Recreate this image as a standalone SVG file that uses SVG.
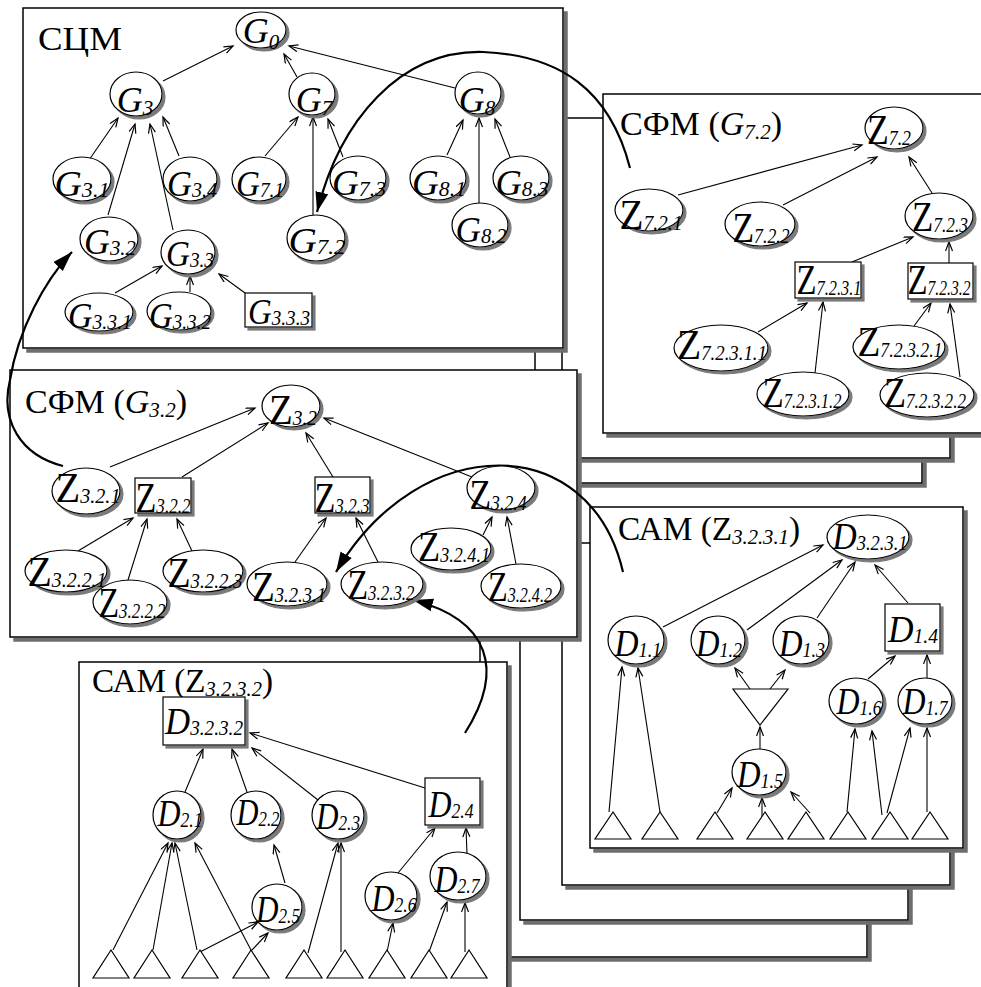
<svg xmlns="http://www.w3.org/2000/svg" width="981" height="987" viewBox="0 0 981 987">
<defs>
<filter id="fsh" x="-5%" y="-5%" width="115%" height="115%"><feDropShadow dx="4" dy="4" stdDeviation="0.5" flood-color="#6e6e6e" flood-opacity="1"/></filter>
<filter id="nsh" x="-20%" y="-20%" width="150%" height="150%"><feDropShadow dx="3" dy="3" stdDeviation="0.7" flood-color="#7a7a7a" flood-opacity="1"/></filter>
<marker id="a" markerWidth="12" markerHeight="10" refX="10" refY="4" orient="auto" markerUnits="userSpaceOnUse"><path d="M1,0.5 L10,4 L1,7.5" fill="none" stroke="#000" stroke-width="1.2"/></marker>
<marker id="A" markerWidth="22" markerHeight="16" refX="20" refY="8" orient="auto" markerUnits="userSpaceOnUse"><path d="M0,1.5 L20,8 L0,14.5 z" fill="#000"/></marker>
<style>
.fr{fill:#fff;stroke:#000;stroke-width:1.5;filter:url(#fsh)}
.n{fill:#fff;stroke:#000;stroke-width:1.2;filter:url(#nsh)}
.tri{fill:#fff;stroke:#000;stroke-width:1.2}
.e{stroke:#000;stroke-width:1.1;fill:none;marker-end:url(#a)}
.c{stroke:#000;stroke-width:2.2;fill:none;marker-end:url(#A)}
text{font-family:"Liberation Serif","Times New Roman",serif;fill:#000}
.t{font-size:34px}
.g{font-size:36px;font-style:italic;text-anchor:middle}
.z{font-size:42px;text-anchor:middle}
.d{font-size:38px;font-style:italic;text-anchor:middle}
.s{font-size:21px;font-style:italic}
.s2{font-size:20px;font-style:italic}
</style>
</defs>

<g id="frames">
<rect class="fr" x="480" y="560" width="387" height="397"/>
<rect class="fr" x="520" y="555" width="388" height="365"/>
<rect class="fr" x="562" y="543" width="388" height="342"/>
<rect class="fr" x="535" y="125" width="387" height="358"/>
<rect class="fr" x="562" y="118" width="388" height="340"/>
<rect id="frame-sfm72" class="fr" x="603" y="94" width="390" height="339"/>
<rect id="frame-sam3231" class="fr" x="590" y="507" width="373" height="341"/>
<rect id="frame-scm" class="fr" x="23" y="8" width="540" height="340"/>
<rect id="frame-sfm32" class="fr" x="10" y="370" width="567" height="267"/>
<rect id="frame-sam3232" class="fr" x="79" y="662" width="428" height="340"/>
</g>

<g id="titles">
<text class="t" x="38" y="50" textLength="84" lengthAdjust="spacingAndGlyphs">СЦМ</text>
<text class="t" x="620" y="135" textLength="162" lengthAdjust="spacingAndGlyphs">СФМ (<tspan font-style="italic">G</tspan><tspan class="s" dy="4">7.2</tspan><tspan dy="-4">)</tspan></text>
<text class="t" x="25" y="413" textLength="162" lengthAdjust="spacingAndGlyphs">СФМ (<tspan font-style="italic">G</tspan><tspan class="s" dy="4">3.2</tspan><tspan dy="-4">)</tspan></text>
<text class="t" x="618" y="540" textLength="182" lengthAdjust="spacingAndGlyphs">САМ (Z<tspan class="s" dy="4">3.2.3.1</tspan><tspan dy="-4">)</tspan></text>
<text class="t" x="92" y="692" textLength="181" lengthAdjust="spacingAndGlyphs">САМ (Z<tspan class="s" dy="4">3.2.3.2</tspan><tspan dy="-4">)</tspan></text>
</g>

<g id="connectors">
<line class="e" x1="163" y1="81" x2="233" y2="46"/>
<line class="e" x1="297" y1="77" x2="284" y2="54"/>
<line class="e" x1="455" y1="88" x2="289" y2="46"/>
<line class="e" x1="87" y1="163" x2="118" y2="118"/>
<line class="e" x1="108" y1="215" x2="135" y2="124"/>
<line class="e" x1="173" y1="230" x2="150" y2="124"/>
<line class="e" x1="179" y1="156" x2="163" y2="117"/>
<line class="e" x1="265" y1="156" x2="298" y2="117"/>
<line class="e" x1="313" y1="215" x2="313" y2="117"/>
<line class="e" x1="343" y1="157" x2="328" y2="119"/>
<line class="e" x1="447" y1="155" x2="463" y2="120"/>
<line class="e" x1="479" y1="203" x2="479" y2="118"/>
<line class="e" x1="510" y1="157" x2="495" y2="119"/>
<line class="e" x1="115" y1="293" x2="162" y2="266"/>
<line class="e" x1="190" y1="292" x2="190" y2="276"/>
<line class="e" x1="245" y1="293" x2="219" y2="274"/>

<line class="e" x1="110" y1="467" x2="255" y2="408"/>
<line class="e" x1="182" y1="477" x2="268" y2="423"/>
<line class="e" x1="333" y1="477" x2="306" y2="433"/>
<line class="e" x1="472" y1="477" x2="324" y2="418"/>
<line class="e" x1="78" y1="551" x2="133" y2="518"/>
<line class="e" x1="128" y1="580" x2="147" y2="519"/>
<line class="e" x1="192" y1="551" x2="177" y2="519"/>
<line class="e" x1="295" y1="562" x2="326" y2="518"/>
<line class="e" x1="378" y1="562" x2="356" y2="518"/>
<line class="e" x1="483" y1="535" x2="492" y2="517"/>
<line class="e" x1="516" y1="564" x2="507" y2="517"/>

<line class="e" x1="678" y1="195" x2="862" y2="145"/>
<line class="e" x1="783" y1="205" x2="877" y2="157"/>
<line class="e" x1="932" y1="193" x2="909" y2="157"/>
<line class="e" x1="852" y1="262" x2="913" y2="237"/>
<line class="e" x1="949" y1="263" x2="949" y2="242"/>
<line class="e" x1="758" y1="332" x2="807" y2="303"/>
<line class="e" x1="815" y1="373" x2="823" y2="302"/>
<line class="e" x1="914" y1="326" x2="931" y2="303"/>
<line class="e" x1="960" y1="377" x2="950" y2="304"/>

<line class="e" x1="663" y1="627" x2="823" y2="545"/>
<line class="e" x1="747" y1="630" x2="842" y2="560"/>
<line class="e" x1="817" y1="618" x2="855" y2="562"/>
<line class="e" x1="908" y1="603" x2="875" y2="565"/>
<line class="e" x1="750" y1="689" x2="735" y2="668"/>
<line class="e" x1="770" y1="689" x2="785" y2="670"/>
<line class="e" x1="760" y1="749" x2="760" y2="727"/>
<line class="e" x1="868" y1="679" x2="895" y2="656"/>
<line class="e" x1="927" y1="678" x2="927" y2="655"/>
<line class="e" x1="609" y1="812" x2="622" y2="667"/>
<line class="e" x1="660" y1="812" x2="638" y2="668"/>
<line class="e" x1="717" y1="813" x2="732" y2="788"/>
<line class="e" x1="762" y1="817" x2="762" y2="798"/>
<line class="e" x1="810" y1="813" x2="791" y2="792"/>
<line class="e" x1="847" y1="812" x2="855" y2="729"/>
<line class="e" x1="882" y1="815" x2="872" y2="731"/>
<line class="e" x1="887" y1="813" x2="910" y2="728"/>
<line class="e" x1="927" y1="812" x2="927" y2="728"/>

<line class="e" x1="185" y1="792" x2="203" y2="749"/>
<line class="e" x1="247" y1="792" x2="232" y2="749"/>
<line class="e" x1="318" y1="800" x2="252" y2="748"/>
<line class="e" x1="425" y1="788" x2="250" y2="733"/>
<line class="e" x1="113" y1="950" x2="168" y2="843"/>
<line class="e" x1="153" y1="950" x2="172" y2="843"/>
<line class="e" x1="197" y1="950" x2="175" y2="843"/>
<line class="e" x1="252" y1="952" x2="195" y2="843"/>
<line class="e" x1="198" y1="953" x2="258" y2="922"/>
<line class="e" x1="252" y1="950" x2="268" y2="933"/>
<line class="e" x1="285" y1="883" x2="274" y2="845"/>
<line class="e" x1="308" y1="953" x2="338" y2="843"/>
<line class="e" x1="341" y1="952" x2="341" y2="843"/>
<line class="e" x1="387" y1="952" x2="393" y2="923"/>
<line class="e" x1="429" y1="952" x2="447" y2="902"/>
<line class="e" x1="465" y1="952" x2="465" y2="903"/>
<line class="e" x1="398" y1="873" x2="435" y2="828"/>
<line class="e" x1="467" y1="854" x2="466" y2="828"/>

<path class="c" d="M630,168 C610,90 560,55 483,52 C400,50 340,120 317,212"/>
<path class="c" d="M63,466 C20,455 0,420 10,380 C18,330 45,280 72,252"/>
<path class="c" d="M623,572 C590,430 420,430 336,572"/>
<path class="c" d="M465,733 C505,670 490,620 413,600"/>
</g>

<g id="G0"><ellipse class="n" cx="261" cy="30" rx="25" ry="18"/><text class="g" x="261" y="43">G<tspan class="s" dy="6">0</tspan></text></g>
<g id="G3"><ellipse class="n" cx="136" cy="94" rx="26" ry="22"/><text class="g" x="135" y="112">G<tspan class="s" dy="3">3</tspan></text></g>
<g id="G7"><ellipse class="n" cx="312" cy="94" rx="23" ry="21"/><text class="g" x="314" y="112">G<tspan class="s" dy="3">7</tspan></text></g>
<g id="G8"><ellipse class="n" cx="478" cy="93" rx="23" ry="21"/><text class="g" x="477" y="112">G<tspan class="s" dy="3">8</tspan></text></g>
<g id="G3.1"><ellipse class="n" cx="82" cy="179" rx="29" ry="22"/><text class="g" x="82" y="196" textLength="55" lengthAdjust="spacingAndGlyphs">G<tspan class="s" dy="1">3.1</tspan></text></g>
<g id="G3.4"><ellipse class="n" cx="190" cy="179" rx="27" ry="22"/><text class="g" x="192" y="196" textLength="50" lengthAdjust="spacingAndGlyphs">G<tspan class="s" dy="1">3.4</tspan></text></g>
<g id="G7.1"><ellipse class="n" cx="259" cy="179" rx="27" ry="22"/><text class="g" x="260" y="196" textLength="48" lengthAdjust="spacingAndGlyphs">G<tspan class="s" dy="1">7.1</tspan></text></g>
<g id="G7.3"><ellipse class="n" cx="358" cy="178" rx="28" ry="22"/><text class="g" x="359" y="195" textLength="54" lengthAdjust="spacingAndGlyphs">G<tspan class="s" dy="1">7.3</tspan></text></g>
<g id="G8.1"><ellipse class="n" cx="438" cy="178" rx="28" ry="22"/><text class="g" x="439" y="195" textLength="54" lengthAdjust="spacingAndGlyphs">G<tspan class="s" dy="1">8.1</tspan></text></g>
<g id="G8.3"><ellipse class="n" cx="521" cy="178" rx="28" ry="22"/><text class="g" x="522" y="195" textLength="53" lengthAdjust="spacingAndGlyphs">G<tspan class="s" dy="1">8.3</tspan></text></g>
<g id="G3.2"><ellipse class="n" cx="109" cy="239" rx="29" ry="22"/><text class="g" x="110" y="254" textLength="52" lengthAdjust="spacingAndGlyphs">G<tspan class="s" dy="1">3.2</tspan></text></g>
<g id="G3.3"><ellipse class="n" cx="188" cy="252" rx="27" ry="22"/><text class="g" x="190" y="266" textLength="48" lengthAdjust="spacingAndGlyphs">G<tspan class="s" dy="1">3.3</tspan></text></g>
<g id="G7.2"><ellipse class="n" cx="316" cy="238" rx="29" ry="23"/><text class="g" x="317" y="253" textLength="57" lengthAdjust="spacingAndGlyphs">G<tspan class="s" dy="1">7.2</tspan></text></g>
<g id="G8.2"><ellipse class="n" cx="480" cy="225" rx="28" ry="22"/><text class="g" x="481" y="242" textLength="51" lengthAdjust="spacingAndGlyphs">G<tspan class="s" dy="1">8.2</tspan></text></g>
<g id="G3.3.1"><ellipse class="n" cx="99" cy="312" rx="34" ry="19"/><text class="g" x="100" y="328" textLength="64" lengthAdjust="spacingAndGlyphs">G<tspan class="s" dy="1">3.3.1</tspan></text></g>
<g id="G3.3.2"><ellipse class="n" cx="179" cy="311" rx="32" ry="19"/><text class="g" x="180" y="328" textLength="62" lengthAdjust="spacingAndGlyphs">G<tspan class="s" dy="1">3.3.2</tspan></text></g>
<g id="G3.3.3"><rect class="n" x="245" y="293" width="67" height="34"/><text class="g" x="279" y="324" textLength="62" lengthAdjust="spacingAndGlyphs">G<tspan class="s" dy="1">3.3.3</tspan></text></g>

<g id="Z3.2"><ellipse class="n" cx="291" cy="406" rx="29" ry="21"/><text class="z" x="293" y="424" textLength="48" lengthAdjust="spacingAndGlyphs">Z<tspan class="s" dy="1">3.2</tspan></text></g>
<g id="Z3.2.1"><ellipse class="n" cx="86" cy="491" rx="34" ry="23"/><text class="z" x="88" y="502" textLength="65" lengthAdjust="spacingAndGlyphs">Z<tspan class="s" dy="1">3.2.1</tspan></text></g>
<g id="Z3.2.2"><rect class="n" x="135" y="478" width="56" height="35"/><text class="z" x="163" y="512" textLength="55" lengthAdjust="spacingAndGlyphs">Z<tspan class="s" dy="1">3.2.2</tspan></text></g>
<g id="Z3.2.3"><rect class="n" x="315" y="477" width="55" height="36"/><text class="z" x="342" y="512" textLength="55" lengthAdjust="spacingAndGlyphs">Z<tspan class="s" dy="1">3.2.3</tspan></text></g>
<g id="Z3.2.4"><ellipse class="n" cx="501" cy="488" rx="34" ry="22"/><text class="z" x="498" y="509" textLength="57" lengthAdjust="spacingAndGlyphs">Z<tspan class="s" dy="1">3.2.4</tspan></text></g>
<g id="Z3.2.2.1"><ellipse class="n" cx="66" cy="571" rx="41" ry="21"/><text class="z" x="67" y="586" textLength="79" lengthAdjust="spacingAndGlyphs">Z<tspan class="s" dy="1">3.2.2.1</tspan></text></g>
<g id="Z3.2.2.2"><ellipse class="n" cx="130" cy="602" rx="37" ry="22"/><text class="z" x="132" y="617" textLength="67" lengthAdjust="spacingAndGlyphs">Z<tspan class="s" dy="1">3.2.2.2</tspan></text></g>
<g id="Z3.2.2.3"><ellipse class="n" cx="203" cy="571" rx="40" ry="21"/><text class="z" x="205" y="587" textLength="75" lengthAdjust="spacingAndGlyphs">Z<tspan class="s" dy="1">3.2.2.3</tspan></text></g>
<g id="Z3.2.3.1"><ellipse class="n" cx="287" cy="584" rx="40" ry="22"/><text class="z" x="289" y="601" textLength="74" lengthAdjust="spacingAndGlyphs">Z<tspan class="s" dy="1">3.2.3.1</tspan></text></g>
<g id="Z3.2.3.2"><ellipse class="n" cx="382" cy="584" rx="41" ry="22"/><text class="z" x="381" y="599" textLength="67" lengthAdjust="spacingAndGlyphs">Z<tspan class="s" dy="1">3.2.3.2</tspan></text></g>
<g id="Z3.2.4.1"><ellipse class="n" cx="451" cy="549" rx="40" ry="21"/><text class="z" x="454" y="561" textLength="72" lengthAdjust="spacingAndGlyphs">Z<tspan class="s" dy="1">3.2.4.1</tspan></text></g>
<g id="Z3.2.4.2"><ellipse class="n" cx="521" cy="586" rx="40" ry="22"/><text class="z" x="520" y="601" textLength="64" lengthAdjust="spacingAndGlyphs">Z<tspan class="s" dy="1">3.2.4.2</tspan></text></g>

<g id="Z7.2"><ellipse class="n" cx="894" cy="128" rx="29" ry="21"/><text class="z" x="889" y="144" textLength="44" lengthAdjust="spacingAndGlyphs">Z<tspan class="s" dy="1">7.2</tspan></text></g>
<g id="Z7.2.1"><ellipse class="n" cx="649" cy="210" rx="34" ry="21"/><text class="z" x="651" y="229" textLength="63" lengthAdjust="spacingAndGlyphs">Z<tspan class="s" dy="1">7.2.1</tspan></text></g>
<g id="Z7.2.2"><ellipse class="n" cx="760" cy="224" rx="35" ry="22"/><text class="z" x="761" y="242" textLength="57" lengthAdjust="spacingAndGlyphs">Z<tspan class="s" dy="1">7.2.2</tspan></text></g>
<g id="Z7.2.3"><ellipse class="n" cx="939" cy="216" rx="34" ry="23"/><text class="z" x="940" y="231" textLength="56" lengthAdjust="spacingAndGlyphs">Z<tspan class="s" dy="1">7.2.3</tspan></text></g>
<g id="Z7.2.3.1"><rect class="n" x="795" y="262" width="66" height="36"/><text class="z" x="829" y="294" textLength="65" lengthAdjust="spacingAndGlyphs">Z<tspan class="s" dy="1">7.2.3.1</tspan></text></g>
<g id="Z7.2.3.2"><rect class="n" x="908" y="263" width="65" height="36"/><text class="z" x="939" y="294" textLength="63" lengthAdjust="spacingAndGlyphs">Z<tspan class="s2" dy="1">7.2.3.2</tspan></text></g>
<g id="Z7.2.3.1.1"><ellipse class="n" cx="721" cy="348" rx="47" ry="23"/><text class="z" x="722" y="359" textLength="90" lengthAdjust="spacingAndGlyphs">Z<tspan class="s2" dy="1">7.2.3.1.1</tspan></text></g>
<g id="Z7.2.3.1.2"><ellipse class="n" cx="803" cy="394" rx="46" ry="22"/><text class="z" x="802" y="407" textLength="79" lengthAdjust="spacingAndGlyphs">Z<tspan class="s2" dy="1">7.2.3.1.2</tspan></text></g>
<g id="Z7.2.3.2.1"><ellipse class="n" cx="899" cy="347" rx="46" ry="22"/><text class="z" x="900" y="356" textLength="85" lengthAdjust="spacingAndGlyphs">Z<tspan class="s2" dy="1">7.2.3.2.1</tspan></text></g>
<g id="Z7.2.3.2.2"><ellipse class="n" cx="927" cy="395" rx="47" ry="22"/><text class="z" x="925" y="407" textLength="82" lengthAdjust="spacingAndGlyphs">Z<tspan class="s2" dy="1">7.2.3.2.2</tspan></text></g>

<g id="D3.2.3.1"><ellipse class="n" cx="868" cy="537" rx="41" ry="22"/><text class="d" x="870" y="549" textLength="75" lengthAdjust="spacingAndGlyphs">D<tspan class="s" dy="1">3.2.3.1</tspan></text></g>
<g id="D1.1"><ellipse class="n" cx="636" cy="640" rx="28" ry="24"/><text class="d" x="638" y="656" textLength="47" lengthAdjust="spacingAndGlyphs">D<tspan class="s" dy="1">1.1</tspan></text></g>
<g id="D1.2"><ellipse class="n" cx="718" cy="640" rx="27" ry="24"/><text class="d" x="719" y="656" textLength="46" lengthAdjust="spacingAndGlyphs">D<tspan class="s" dy="1">1.2</tspan></text></g>
<g id="D1.3"><ellipse class="n" cx="801" cy="640" rx="28" ry="24"/><text class="d" x="802" y="656" textLength="46" lengthAdjust="spacingAndGlyphs">D<tspan class="s" dy="1">1.3</tspan></text></g>
<g id="D1.4"><rect class="n" x="885" y="604" width="55" height="47"/><text class="d" x="913" y="642" textLength="50" lengthAdjust="spacingAndGlyphs">D<tspan class="s" dy="1">1.4</tspan></text></g>
<g id="tri-1"><polygon class="tri" points="733,689 788,689 760,725"/></g>
<g id="D1.5"><ellipse class="n" cx="759" cy="772" rx="27" ry="23"/><text class="d" x="760" y="787" textLength="46" lengthAdjust="spacingAndGlyphs">D<tspan class="s" dy="1">1.5</tspan></text></g>
<g id="D1.6"><ellipse class="n" cx="856" cy="701" rx="27" ry="23"/><text class="d" x="859" y="714" textLength="45" lengthAdjust="spacingAndGlyphs">D<tspan class="s" dy="1">1.6</tspan></text></g>
<g id="D1.7"><ellipse class="n" cx="925" cy="701" rx="27" ry="23"/><text class="d" x="925" y="714" textLength="45" lengthAdjust="spacingAndGlyphs">D<tspan class="s" dy="1">1.7</tspan></text></g>
<g id="leaves-1">
<polygon class="tri" points="595,839 631,839 613,812"/>
<polygon class="tri" points="642,839 678,839 660,812"/>
<polygon class="tri" points="697,839 733,839 715,812"/>
<polygon class="tri" points="747,839 783,839 765,812"/>
<polygon class="tri" points="788,839 824,839 806,812"/>
<polygon class="tri" points="830,839 866,839 848,812"/>
<polygon class="tri" points="872,839 908,839 890,812"/>
<polygon class="tri" points="912,839 948,839 930,812"/>
</g>

<g id="D3.2.3.2"><rect class="n" x="163" y="697" width="82" height="48"/><text class="d" x="204" y="734" textLength="78" lengthAdjust="spacingAndGlyphs">D<tspan class="s" dy="1">3.2.3.2</tspan></text></g>
<g id="D2.1"><ellipse class="n" cx="177" cy="815" rx="24" ry="24"/><text class="d" x="180" y="826" textLength="45" lengthAdjust="spacingAndGlyphs">D<tspan class="s" dy="1">2.1</tspan></text></g>
<g id="D2.2"><ellipse class="n" cx="256" cy="815" rx="25" ry="24"/><text class="d" x="258" y="825" textLength="43" lengthAdjust="spacingAndGlyphs">D<tspan class="s" dy="1">2.2</tspan></text></g>
<g id="D2.3"><ellipse class="n" cx="338" cy="815" rx="26" ry="24"/><text class="d" x="338" y="829" textLength="44" lengthAdjust="spacingAndGlyphs">D<tspan class="s" dy="1">2.3</tspan></text></g>
<g id="D2.4"><rect class="n" x="425" y="778" width="55" height="47"/><text class="d" x="451" y="817" textLength="45" lengthAdjust="spacingAndGlyphs">D<tspan class="s" dy="1">2.4</tspan></text></g>
<g id="D2.5"><ellipse class="n" cx="277" cy="907" rx="25" ry="23"/><text class="d" x="278" y="922" textLength="44" lengthAdjust="spacingAndGlyphs">D<tspan class="s" dy="1">2.5</tspan></text></g>
<g id="D2.6"><ellipse class="n" cx="391" cy="896" rx="26" ry="24"/><text class="d" x="394" y="911" textLength="45" lengthAdjust="spacingAndGlyphs">D<tspan class="s" dy="1">2.6</tspan></text></g>
<g id="D2.7"><ellipse class="n" cx="458" cy="876" rx="28" ry="24"/><text class="d" x="457" y="892" textLength="45" lengthAdjust="spacingAndGlyphs">D<tspan class="s" dy="1">2.7</tspan></text></g>
<g id="leaves-2">
<polygon class="tri" points="93,978 129,978 111,950"/>
<polygon class="tri" points="134,978 170,978 152,950"/>
<polygon class="tri" points="182,978 218,978 200,950"/>
<polygon class="tri" points="233,978 269,978 251,950"/>
<polygon class="tri" points="286,978 322,978 304,950"/>
<polygon class="tri" points="327,978 363,978 345,950"/>
<polygon class="tri" points="369,978 405,978 387,950"/>
<polygon class="tri" points="411,978 447,978 429,950"/>
<polygon class="tri" points="451,978 487,978 469,950"/>
</g>
</svg>
